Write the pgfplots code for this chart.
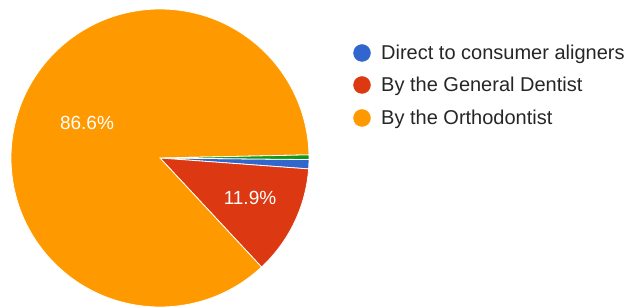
\documentclass[border=0pt]{standalone}
\usepackage{pgfplots}
\pgfplotsset{compat=1.18}
\usepackage{fontspec}
\setmainfont{Liberation Sans}
\definecolor{gblue}{HTML}{3366CC}
\definecolor{gred}{HTML}{DC3912}
\definecolor{gorange}{HTML}{FF9900}
\definecolor{ggreen}{HTML}{109618}
\begin{document}
\begin{tikzpicture}
% slice values (percent)
\def\vBlue{1.0}
\def\vRed{11.9}
\def\vOrange{86.6}
\def\vGreen{0.5}
\def\startang{-0.6}
\pgfmathsetmacro{\aA}{\startang}
\pgfmathsetmacro{\aB}{\aA-3.6*\vBlue}
\pgfmathsetmacro{\aC}{\aB-3.6*\vRed}
\pgfmathsetmacro{\aD}{\aC-3.6*\vOrange}
\pgfmathsetmacro{\aE}{\aD-3.6*\vGreen}
\begin{axis}[
  at={(0,0)}, anchor=south west,
  width=639pt, height=307pt, scale only axis,
  xmin=0, xmax=639, ymin=0, ymax=307,
  hide axis, clip=false,
]
\def\cx{160}\def\cy{149}\def\r{149}
\fill[gblue, draw=white, line width=0.8pt] (axis cs:\cx,\cy) -- (axis cs:{\cx+\r*cos(\aA)},{\cy+\r*sin(\aA)}) arc[start angle=\aA, end angle=\aB, radius=\r pt] -- cycle;
\fill[gred, draw=white, line width=0.8pt] (axis cs:\cx,\cy) -- (axis cs:{\cx+\r*cos(\aB)},{\cy+\r*sin(\aB)}) arc[start angle=\aB, end angle=\aC, radius=\r pt] -- cycle;
\fill[gorange, draw=white, line width=0.8pt] (axis cs:\cx,\cy) -- (axis cs:{\cx+\r*cos(\aC)},{\cy+\r*sin(\aC)}) arc[start angle=\aC, end angle=\aD, radius=\r pt] -- cycle;
\fill[ggreen, draw=white, line width=0.8pt] (axis cs:\cx,\cy) -- (axis cs:{\cx+\r*cos(\aD)},{\cy+\r*sin(\aD)}) arc[start angle=\aD, end angle=\aE, radius=\r pt] -- cycle;
\node[white, font=\fontsize{19}{23}\selectfont, inner sep=0pt] at (axis cs:87,184) {86.6\%};
\node[white, font=\fontsize{19}{23}\selectfont, inner sep=0pt] at (axis cs:250,109) {11.9\%};
% legend
\addplot[only marks, mark=*, mark size=8.5pt, color=gblue] coordinates {(362,254)};
\addplot[only marks, mark=*, mark size=8.5pt, color=gred] coordinates {(362,222)};
\addplot[only marks, mark=*, mark size=8.5pt, color=gorange] coordinates {(362,189)};
\node[anchor=base west, inner sep=0pt, font=\fontsize{20}{24}\selectfont, text=black!85] at (axis cs:381,247) {Direct to consumer aligners};
\node[anchor=base west, inner sep=0pt, font=\fontsize{20}{24}\selectfont, text=black!85] at (axis cs:381,215) {By the General Dentist};
\node[anchor=base west, inner sep=0pt, font=\fontsize{20}{24}\selectfont, text=black!85] at (axis cs:381,182) {By the Orthodontist};
\end{axis}
\pgfresetboundingbox
\path[use as bounding box] (0,0) rectangle (639pt,307pt);
\end{tikzpicture}
\end{document}
